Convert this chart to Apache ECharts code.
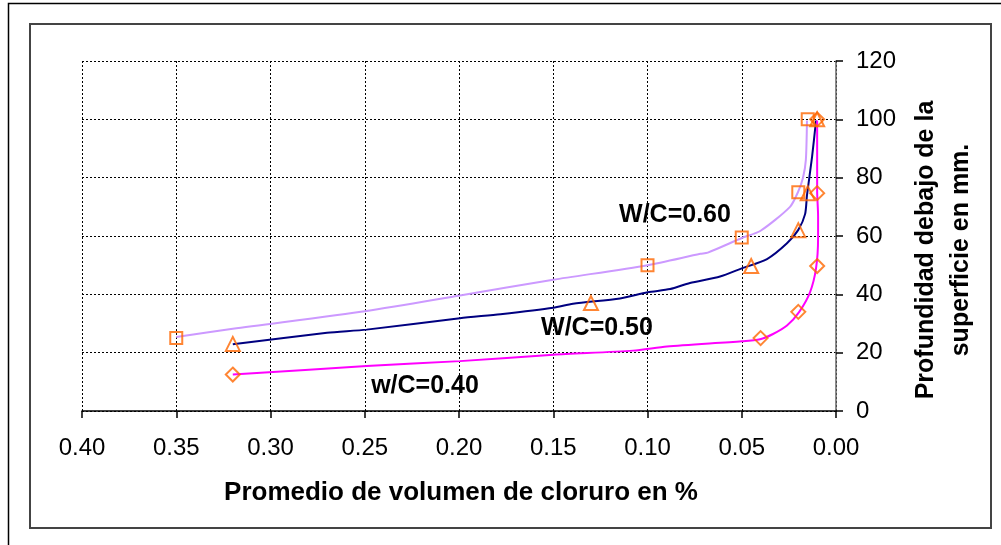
<!DOCTYPE html>
<html>
<head>
<meta charset="utf-8">
<script src="https://cdn.jsdelivr.net/npm/echarts@6/dist/echarts.min.js"></script>
<style>
html,body{margin:0;padding:0;background:#fff;}
#c{width:1001px;height:545px;}
</style>
</head>
<body>
<div id="c"></div>
<script>
// x ticks (chloride %), y ticks (depth mm)
var xTicks = [0.40, 0.35, 0.30, 0.25, 0.20, 0.15, 0.10, 0.05, 0.00];
var yTicks = [0, 20, 40, 60, 80, 100, 120];

// measured points [chloride %, depth mm]
var pts060 = [[0.35, 25], [0.10, 50], [0.05, 59.5], [0.02, 75], [0.015, 100]];
var pts050 = [[0.32, 23], [0.13, 37], [0.045, 49.7], [0.02, 62], [0.015, 74.7], [0.01, 100]];
var pts040 = [[0.32, 12.5], [0.04, 25], [0.02, 34], [0.01, 49.7], [0.01, 74.7], [0.01, 100]];

// drawn trend curves [chloride %, depth mm]
var curve060 = [[0.350, 25.4], [0.320, 28.2], [0.249, 34.3], [0.1995, 39.6], [0.150, 45], [0.100, 50],
  [0.072, 53.9], [0.068, 54.3], [0.050, 59.3], [0.040, 61.8], [0.0244, 70], [0.0202, 75],
  [0.0175, 80], [0.016, 86], [0.0154, 99.6]];
var curve050 = [[0.320, 22.9], [0.270, 26.8], [0.249, 27.9], [0.1995, 31.8], [0.178, 33.2], [0.150, 35.4],
  [0.1395, 36.8], [0.1146, 38.6], [0.100, 40.7], [0.088, 41.8], [0.0775, 43.9], [0.0615, 46.1],
  [0.050, 48.9], [0.0366, 52.1], [0.026, 57.5], [0.020, 62.1], [0.0164, 67.5], [0.0154, 73.9],
  [0.0127, 87.1], [0.0106, 99.6]];
var curve040 = [[0.320, 12.5], [0.249, 15.4], [0.1995, 17.1], [0.150, 19.3], [0.1077, 20.7], [0.0897, 22.1],
  [0.050, 23.9], [0.0403, 24.6], [0.0334, 26.4], [0.026, 29.3], [0.0196, 33.9], [0.0138, 40.7],
  [0.0106, 48.9], [0.0095, 59.6], [0.0095, 66.8], [0.010, 75.4], [0.010, 99.6]];

var labels = ['W/C=0.60', 'W/C=0.50', 'w/C=0.40'];
var xTitle = 'Promedio de volumen de cloruro en %';
var yTitle = ['Profundidad debajo de la', 'superficie en mm.'];

var FONT = '"Liberation Sans", Arial, Helvetica, sans-serif';
var chart = echarts.init(document.getElementById('c'), null, {renderer: 'canvas'});

function lineSeries(data, color) {
  return {type: 'line', data: data, smooth: 0.25, showSymbol: false, symbol: 'none',
    lineStyle: {color: color, width: 2}, z: 2, silent: true, animation: false};
}
function markSeries(data, symbol, size) {
  return {type: 'scatter', data: data, symbol: symbol, symbolSize: size,
    itemStyle: {color: 'rgba(0,0,0,0)', borderColor: '#FF6600', borderWidth: 2}, z: 3, animation: false};
}

chart.setOption({
  animation: false,
  backgroundColor: '#fff',
  grid: {left: 82, right: 165, top: 61, bottom: 134, containLabel: false},
  xAxis: {
    type: 'value', inverse: true, min: xTicks[xTicks.length - 1], max: xTicks[0], interval: 0.05,
    axisLine: {show: true, onZero: false, lineStyle: {color: '#000', width: 1.5}},
    axisTick: {show: true, length: 7, lineStyle: {color: '#000', width: 1.5}},
    axisLabel: {margin: 25, fontSize: 24, color: '#000', fontFamily: FONT,
      formatter: function (v) { return v.toFixed(2); }},
    splitLine: {show: true, lineStyle: {color: '#000', type: [2, 2], width: 1}}
  },
  yAxis: {
    type: 'value', position: 'right', min: yTicks[0], max: yTicks[yTicks.length - 1], interval: 20,
    axisLine: {show: true, onZero: false, lineStyle: {color: '#666', width: 1.5}},
    axisTick: {show: true, length: 7, lineStyle: {color: '#000', width: 1.5}},
    axisLabel: {margin: 20, fontSize: 24, color: '#000', fontFamily: FONT},
    splitLine: {show: true, lineStyle: {color: '#000', type: [2, 2], width: 1}}
  },
  graphic: [
    {type: 'rect', shape: {x: 8.5, y: 3.5, width: 1000, height: 560}, style: {fill: 'none', stroke: '#000', lineWidth: 1.5}, silent: true, z: 0},
    {type: 'rect', shape: {x: 30, y: 24, width: 961, height: 504}, style: {fill: 'none', stroke: '#444', lineWidth: 2}, silent: true, z: 0},
    {type: 'text', x: 461, y: 493, style: {text: xTitle, font: 'bold 26px ' + FONT, fill: '#000', textAlign: 'center', textVerticalAlign: 'middle'}, z: 10},
    {type: 'text', x: 944, y: 250, rotation: Math.PI / 2,
      style: {text: yTitle.join('\n'), font: 'bold 25px ' + FONT, lineHeight: 35, fill: '#000', textAlign: 'center', textVerticalAlign: 'middle'}, z: 10},
    {type: 'text', x: 675, y: 215, style: {text: labels[0], font: 'bold 25px ' + FONT, fill: '#000', textAlign: 'center', textVerticalAlign: 'middle'}, z: 10},
    {type: 'text', x: 597, y: 328, style: {text: labels[1], font: 'bold 25px ' + FONT, fill: '#000', textAlign: 'center', textVerticalAlign: 'middle'}, z: 10},
    {type: 'text', x: 425, y: 386, style: {text: labels[2], font: 'bold 25px ' + FONT, fill: '#000', textAlign: 'center', textVerticalAlign: 'middle'}, z: 10}
  ],
  series: [
    lineSeries(curve060, '#CC99FF'),
    lineSeries(curve050, '#000080'),
    lineSeries(curve040, '#FF00FF'),
    markSeries(pts060, 'rect', 12),
    markSeries(pts050, 'triangle', 14),
    markSeries(pts040, 'diamond', 14)
  ]
});
</script>
</body>
</html>
